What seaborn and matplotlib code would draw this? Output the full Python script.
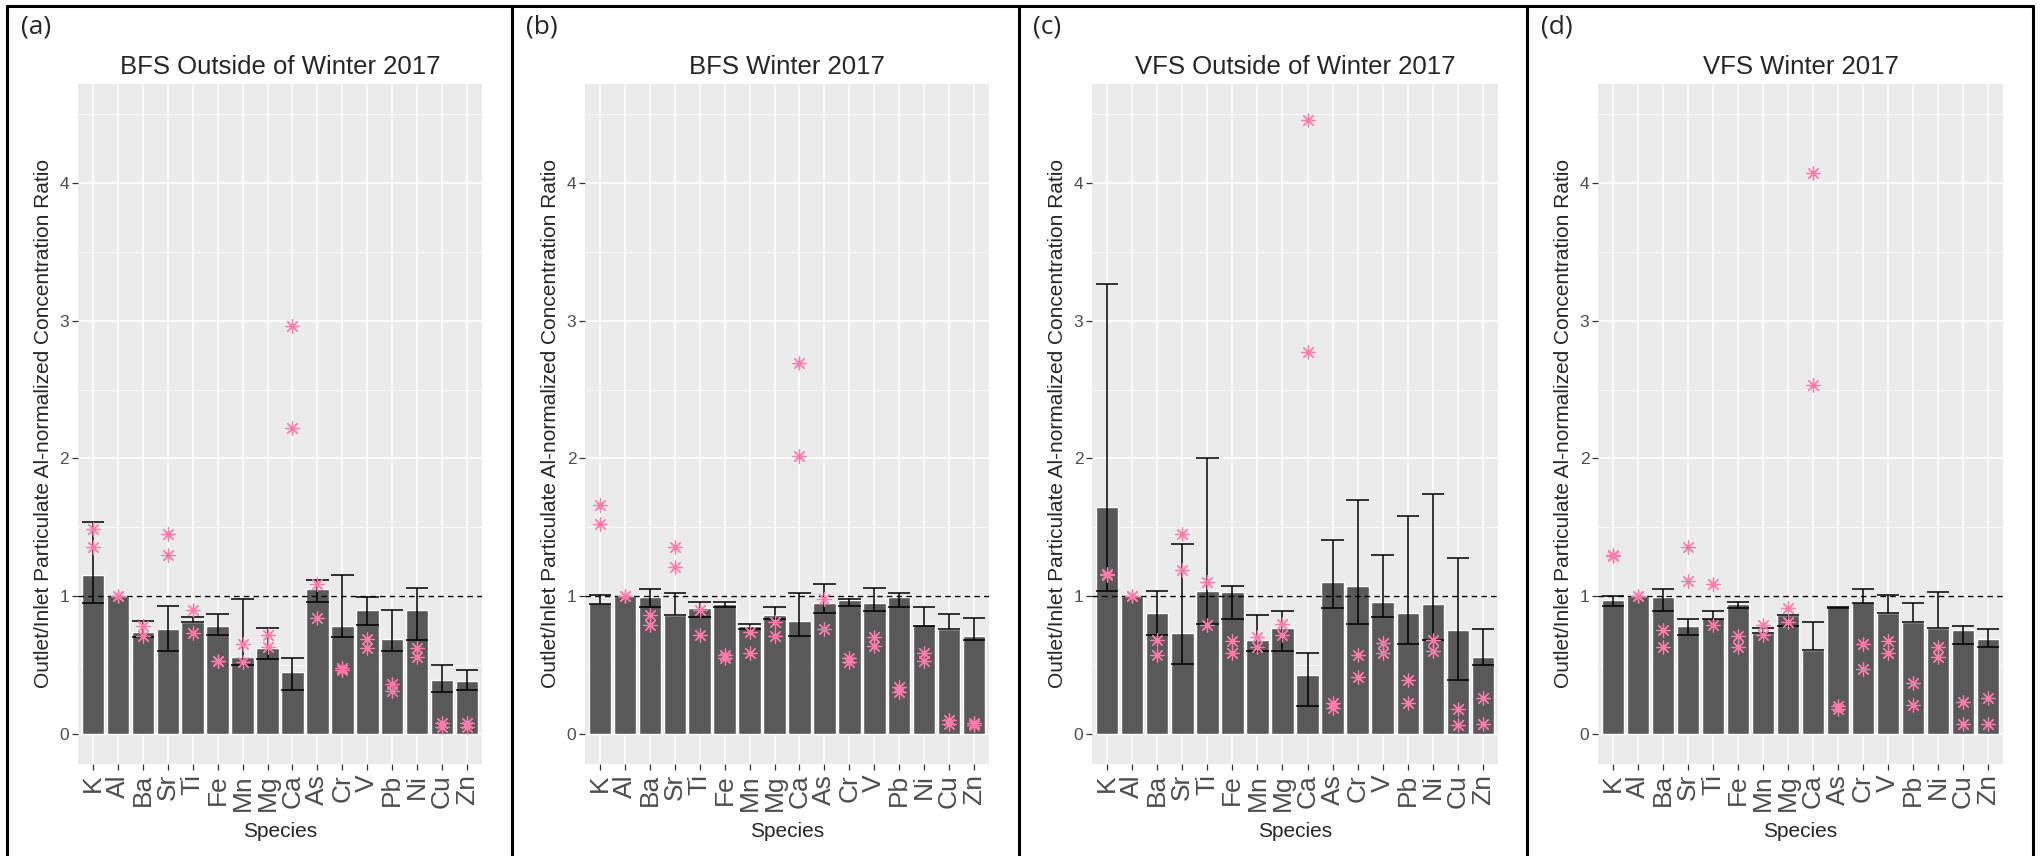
import numpy as np
import pandas as pd
import matplotlib
matplotlib.use("Agg")
import matplotlib.pyplot as plt
import seaborn as sns
from matplotlib.lines import Line2D
from matplotlib.ticker import MultipleLocator

nan = np.nan

species = ["K", "Al", "Ba", "Sr", "Ti", "Fe", "Mn", "Mg", "Ca", "As", "Cr", "V", "Pb", "Ni", "Cu", "Zn"]

# (a) BFS Outside of Winter 2017
bfs_out_mean = [1.15, 1.00, 0.74, 0.76, 0.81, 0.78, 0.56, 0.62, 0.45, 1.05, 0.78, 0.90, 0.69, 0.90, 0.39, 0.38]
bfs_out_lo = [0.95, nan, 0.70, 0.60, 0.81, 0.72, 0.50, 0.54, 0.32, 0.96, 0.70, 0.79, 0.60, 0.68, 0.30, 0.32]
bfs_out_hi = [1.54, nan, 0.82, 0.93, 0.85, 0.87, 0.98, 0.77, 0.55, 1.12, 1.15, 0.99, 0.90, 1.06, 0.50, 0.46]
bfs_out_s1 = [1.49, 1.00, 0.78, 1.45, 0.90, 0.53, 0.65, 0.72, 2.96, 1.09, 0.48, 0.69, 0.36, 0.62, 0.08, 0.08]
bfs_out_s2 = [1.36, 1.00, 0.71, 1.30, 0.73, 0.53, 0.52, 0.63, 2.22, 0.84, 0.46, 0.62, 0.31, 0.56, 0.05, 0.05]

# (b) BFS Winter 2017
bfs_win_mean = [0.95, 1.00, 0.99, 0.86, 0.91, 0.94, 0.78, 0.86, 0.82, 0.95, 0.97, 0.95, 0.99, 0.80, 0.76, 0.71]
bfs_win_lo = [0.94, nan, 0.92, 0.86, 0.85, 0.92, 0.76, 0.83, 0.71, 0.88, 0.93, 0.89, 0.92, 0.78, 0.76, 0.68]
bfs_win_hi = [1.01, nan, 1.05, 1.02, 0.96, 0.96, 0.80, 0.92, 1.02, 1.09, 0.98, 1.06, 1.02, 0.92, 0.87, 0.84]
bfs_win_s1 = [1.66, 1.00, 0.86, 1.36, 0.90, 0.57, 0.74, 0.81, 2.69, 0.98, 0.55, 0.70, 0.34, 0.59, 0.10, 0.08]
bfs_win_s2 = [1.52, 1.00, 0.79, 1.21, 0.72, 0.55, 0.59, 0.71, 2.02, 0.76, 0.52, 0.64, 0.30, 0.53, 0.07, 0.06]

# (c) VFS Outside of Winter 2017
vfs_out_mean = [1.65, 1.00, 0.88, 0.73, 1.04, 1.03, 0.68, 0.77, 0.43, 1.10, 1.07, 0.96, 0.88, 0.94, 0.75, 0.56]
vfs_out_lo = [1.04, nan, 0.72, 0.51, 0.80, 0.83, 0.60, 0.60, 0.20, 0.91, 0.80, 0.85, 0.65, 0.68, 0.39, 0.50]
vfs_out_hi = [3.27, nan, 1.04, 1.38, 2.00, 1.07, 0.86, 0.89, 0.59, 1.41, 1.70, 1.30, 1.58, 1.74, 1.28, 0.76]
vfs_out_s1 = [1.16, 1.00, 0.68, 1.45, 1.10, 0.67, 0.70, 0.80, 4.46, 0.22, 0.57, 0.66, 0.39, 0.68, 0.18, 0.26]
vfs_out_s2 = [1.15, 1.00, 0.57, 1.19, 0.79, 0.59, 0.63, 0.72, 2.77, 0.19, 0.41, 0.59, 0.22, 0.60, 0.06, 0.07]

# (d) VFS Winter 2017
vfs_win_mean = [0.97, 1.00, 0.99, 0.78, 0.84, 0.94, 0.73, 0.86, 0.61, 0.92, 0.96, 0.88, 0.81, 0.77, 0.75, 0.69]
vfs_win_lo = [0.93, nan, 0.89, 0.72, 0.83, 0.91, 0.73, 0.78, 0.61, 0.91, 0.95, 0.88, 0.81, 0.77, 0.65, 0.63]
vfs_win_hi = [1.00, nan, 1.05, 0.83, 0.89, 0.96, 0.77, 0.86, 0.81, 0.92, 1.05, 1.01, 0.95, 1.03, 0.78, 0.76]
vfs_win_s1 = [1.30, 1.00, 0.75, 1.36, 1.09, 0.71, 0.79, 0.91, 4.07, 0.20, 0.65, 0.67, 0.37, 0.63, 0.23, 0.26]
vfs_win_s2 = [1.29, 1.00, 0.63, 1.11, 0.79, 0.63, 0.72, 0.81, 2.53, 0.18, 0.47, 0.59, 0.21, 0.56, 0.07, 0.07]

panels = [
    ("(a)", "BFS Outside of Winter 2017", bfs_out_mean, bfs_out_lo, bfs_out_hi, bfs_out_s1, bfs_out_s2),
    ("(b)", "BFS Winter 2017", bfs_win_mean, bfs_win_lo, bfs_win_hi, bfs_win_s1, bfs_win_s2),
    ("(c)", "VFS Outside of Winter 2017", vfs_out_mean, vfs_out_lo, vfs_out_hi, vfs_out_s1, vfs_out_s2),
    ("(d)", "VFS Winter 2017", vfs_win_mean, vfs_win_lo, vfs_win_hi, vfs_win_s1, vfs_win_s2),
]

sns.set_theme(style="darkgrid", rc={
    "axes.facecolor": "#EBEBEB",
    "grid.color": "white",
    "xtick.bottom": True,
    "ytick.left": True,
    "xtick.color": "#333333",
    "ytick.color": "#333333",
    "xtick.labelcolor": "#4D4D4D",
    "ytick.labelcolor": "#4D4D4D",
    "xtick.major.size": 4.3,
    "ytick.major.size": 4.3,
    "xtick.major.width": 0.9,
    "ytick.major.width": 0.9,
})
plt.rcParams["font.family"] = ["Liberation Sans", "DejaVu Sans"]

W, H = 2044, 856
fig = plt.figure(figsize=(W / 100, H / 100), dpi=100)

# plot area boxes in pixels (left, right), shared top/bottom
boxes = [(78, 482), (585, 989), (1092, 1498), (1598, 2003)]
top_px, bot_px = 84, 764
cell_edges = [7, 512, 1019, 1527, 2033]

pink = "#FF7BAC"

for i, (tag, title, mean, lo, hi, s1, s2) in enumerate(panels):
    x0, x1 = boxes[i]
    ax = fig.add_axes([x0 / W, 1 - bot_px / H, (x1 - x0) / W, (bot_px - top_px) / H])

    bars = pd.DataFrame({"Species": species, "ratio": mean})
    sns.barplot(data=bars, x="Species", y="ratio", order=species, color="#595959",
                saturation=1, width=0.9, errorbar=None, ax=ax, zorder=2)

    err = pd.DataFrame({"pos": np.arange(len(species)), "lo": lo, "hi": hi}).dropna()
    ax.vlines(err["pos"], err["lo"], err["hi"], color="black", lw=1.1, zorder=3)
    ax.hlines(err["hi"], err["pos"] - 0.45, err["pos"] + 0.45, color="black", lw=1.1, zorder=3)
    ax.hlines(err["lo"], err["pos"] - 0.45, err["pos"] + 0.45, color="black", lw=1.1, zorder=3)

    pts = pd.DataFrame({"Species": species * 2, "ratio": list(s1) + list(s2)})
    sns.stripplot(data=pts, x="Species", y="ratio", order=species, jitter=False,
                  marker=(8, 2, 0), size=9.5, color=pink, edgecolor=pink, linewidth=0.9,
                  ax=ax, zorder=4)

    ax.axhline(1, color="black", lw=1.0, linestyle=(0, (4, 3)), zorder=3)

    ax.set_xlim(-0.6, len(species) - 0.4)
    ax.set_ylim(-0.22, 4.72)
    ax.set_yticks([0, 1, 2, 3, 4])
    ax.yaxis.set_minor_locator(MultipleLocator(0.5))
    ax.grid(which="major", color="white", lw=1.1)
    ax.grid(which="minor", axis="y", color="white", lw=0.55)
    ax.tick_params(axis="y", which="minor", length=0)
    ax.tick_params(axis="x", labelsize=19, rotation=90, pad=3)
    ax.tick_params(axis="y", labelsize=12.5, pad=2)
    for lab in ax.get_xticklabels():
        lab.set_verticalalignment("top")

    ax.set_title(title, fontsize=18.5, pad=7)
    ax.set_xlabel("Species", fontsize=15, labelpad=8)
    ax.set_ylabel("Outlet/Inlet Particulate Al-normalized Concentration Ratio", fontsize=15, labelpad=5)
    for sp in ax.spines.values():
        sp.set_visible(False)

    fig.text((cell_edges[i] + 14) / W, 1 - 27 / H, tag, fontsize=19, va="center", ha="left",
             family=["Open Sans", "DejaVu Sans"])

# table borders around the four panels
fig.add_artist(Line2D([cell_edges[0] / W, cell_edges[-1] / W], [1 - 6 / H, 1 - 6 / H],
                      color="black", lw=2.2, transform=fig.transFigure))
for xe in cell_edges:
    fig.add_artist(Line2D([xe / W, xe / W], [0, 1 - 6 / H], color="black", lw=2.2,
                          transform=fig.transFigure))

fig.savefig("out.png", dpi=100, facecolor="white")
